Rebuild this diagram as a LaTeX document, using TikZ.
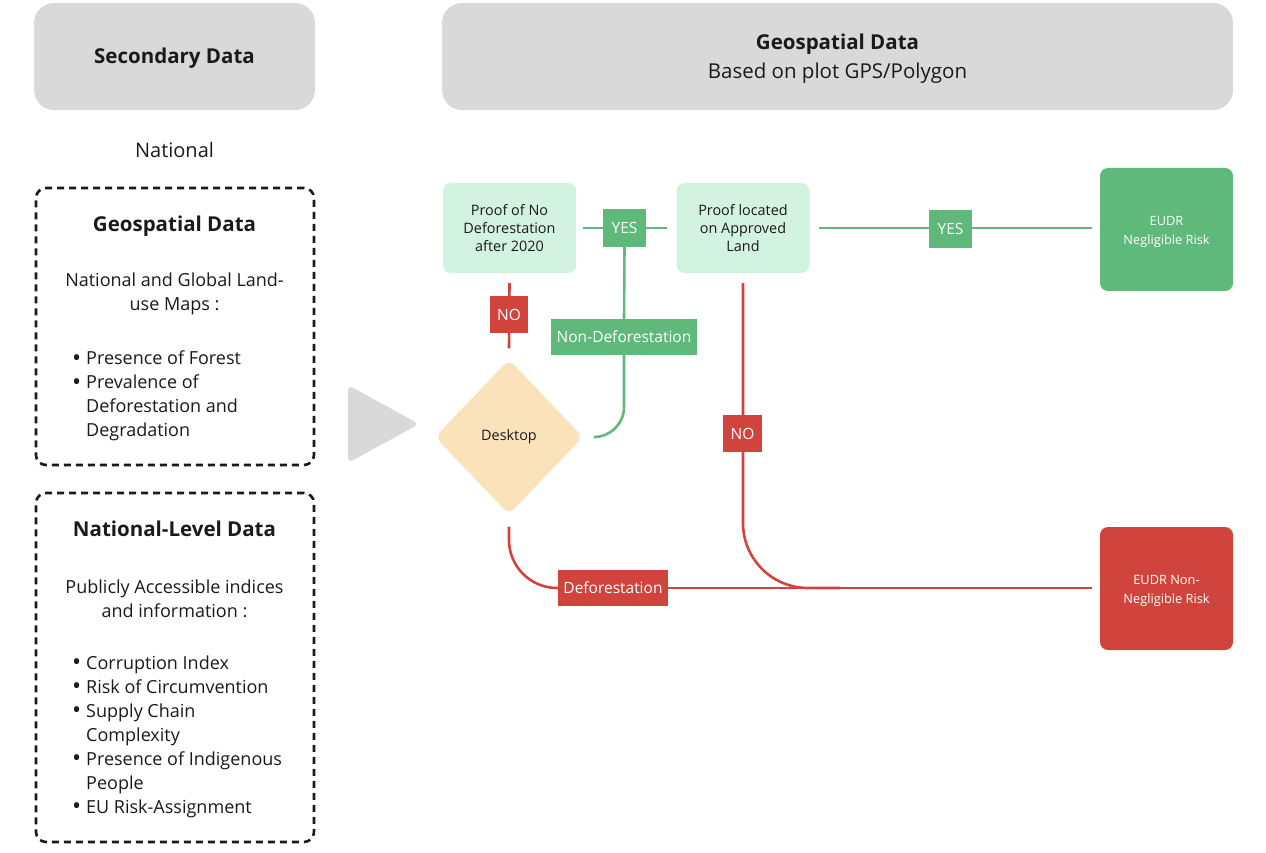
\documentclass[tikz,border=0pt]{standalone}
\usepackage{fontspec}
\setmainfont{Open Sans}
\usetikzlibrary{shapes.geometric}
\definecolor{gbox}{HTML}{D9D9D9}
\definecolor{grn}{HTML}{5FB97A}
\definecolor{redc}{HTML}{D1443D}
\definecolor{lgrn}{HTML}{D2F3E0}
\definecolor{sand}{HTML}{FAE3BB}
\definecolor{ink}{HTML}{1A1A1A}
\newcommand{\bul}{\makebox[14pt][l]{\smash{\raisebox{-1.3pt}{\scalebox{1.35}{\textbullet}}}}}
\newcommand{\bulsp}{\makebox[14pt][l]{}}
\begin{document}
\begin{tikzpicture}[x=1pt,y=-1pt,
  hdr/.style={fill=gbox, rounded corners=20pt, inner sep=0pt, align=center, text=ink},
  dbox/.style={draw=ink, line width=2.6pt, dash pattern=on 7pt off 5pt, rounded corners=10pt, inner sep=0pt},
  ttl/.style={font=\fontsize{20.5}{24}\selectfont\bfseries, text=ink, inner sep=0pt, anchor=base},
  body/.style={font=\fontsize{18}{24}\selectfont, text=ink, inner sep=0pt, align=center},
  blist/.style={font=\fontsize{18}{24}\selectfont, text=ink, inner sep=0pt, align=left, anchor=west},
  proof/.style={fill=lgrn, rounded corners=8pt, inner sep=0pt, minimum width=133pt, minimum height=90pt, align=center, font=\fontsize{14.4}{18}\selectfont, text=ink},
  result/.style={rounded corners=8pt, inner sep=0pt, minimum width=133pt, minimum height=123pt},
  restxt/.style={inner sep=0pt, align=center, font=\fontsize{12.8}{19}\selectfont, text=white},
  glab/.style={fill=grn, inner sep=0pt, text=white, font=\fontsize{15.5}{16}\selectfont},
  rlab/.style={fill=redc, inner sep=0pt, text=white, font=\fontsize{15.5}{16}\selectfont},
  gline/.style={draw=grn, line width=2.6pt},
  rline/.style={draw=redc, line width=2.6pt}
]
\useasboundingbox (0,0) rectangle (1266,853);

% headers
\node[hdr, minimum width=281pt, minimum height=107pt] (sec) at (174.5,56.5) {};
\node[ttl] (sect) at (174.5,64) {Secondary Data};
\node[hdr, minimum width=791pt, minimum height=107pt] (geoh) at (837.5,56.5) {};
\node[ttl] (geot) at (837.5,50) {Geospatial Data};
\node[body, anchor=base, font=\fontsize{20.5}{24}\selectfont] (geos) at (837.5,78.5) {Based on plot GPS/Polygon};
\node[body, anchor=base, font=\fontsize{20}{24}\selectfont] (nat) at (174.5,158) {National};

% dashed box 1
\node[dbox, minimum width=278pt, minimum height=277pt] (box1) at (175,326.5) {};
\node[ttl] (t1) at (174.5,231) {Geospatial Data};
\node[body] (p1txt) at (174.5,294) {National and Global Land-\\use Maps :};
\node[blist] (l1) at (72,396) {\bul Presence of Forest\\\bul Prevalence of\\\bulsp Deforestation and\\\bulsp Degradation};

% dashed box 2
\node[dbox, minimum width=278pt, minimum height=349pt] (box2) at (175,667.5) {};
\node[ttl] (t2) at (174.5,536) {National-Level Data};
\node[body] (p2txt) at (174.5,598.5) {Publicly Accessible indices\\and information :};
\node[blist] (l2) at (72,737) {\bul Corruption Index\\\bul Risk of Circumvention\\\bul Supply Chain\\\bulsp Complexity\\\bul Presence of Indigenous\\\bulsp People\\\bul EU Risk-Assignment};

% arrow triangle
\fill[gbox, rounded corners=5pt] (348,385) -- (419,424) -- (348,463) -- cycle;

% flow nodes
\node[proof] (pa) at (509.5,228) {Proof of No\\Deforestation\\after 2020};
\node[proof] (pb) at (743,228) {Proof located\\on Approved\\Land};
\node[result, fill=grn] (ok) at (1166.5,229.5) {};
\node[restxt] (okt) at (1166.5,231.5) {EUDR\\Negligible Risk};
\node[result, fill=redc] (nok) at (1166.5,588.5) {};
\node[restxt] (nokt) at (1166.5,590.5) {EUDR Non-\\Negligible Risk};
\node[diamond, fill=sand, rounded corners=8pt, inner sep=0pt, minimum width=148pt, minimum height=155pt, font=\fontsize{14.4}{18}\selectfont, text=ink] (desk) at (509,437) {Desktop};

% connectors
\draw[gline] ([xshift=7pt]pa.east) -- ([xshift=-9pt]pb.west);
\draw[gline] ([xshift=9pt]pb.east) -- ([xshift=-8pt]pb.east -| ok.west);
\node[glab, minimum width=43pt, minimum height=37pt] (yes1) at (624.5,228) {YES};
\node[glab, minimum width=43pt, minimum height=37pt] (yes2) at (950.5,229) {YES};
\node[glab, minimum width=146pt, minimum height=36pt] (nondef) at (624,337) {Non-Deforestation};
\draw[gline] (yes1.south) -- (nondef.north);
\draw[gline, rounded corners=30pt] (nondef.south) |- ([xshift=11pt]desk.east);

\draw[rline] ([yshift=-10pt]pa.south) -- ([yshift=11pt]desk.north);
\node[rlab, minimum width=38pt, minimum height=37pt] (no1) at (509,314.5) {NO};

\coordinate (merge) at (840,588);
\node[rlab, minimum width=110pt, minimum height=36pt] (def) at (613,588) {Deforestation};
\draw[rline, rounded corners=48pt] ([yshift=-12pt]desk.south) |- (def.west);
\draw[rline] (def.east) -- ([xshift=-8pt]def.east -| nok.west);
\draw[rline, rounded corners=65pt] ([yshift=-10pt]pb.south) |- (merge);
\node[rlab, minimum width=39pt, minimum height=37pt] (no2) at (742.5,433.5) {NO};
\end{tikzpicture}
\end{document}
